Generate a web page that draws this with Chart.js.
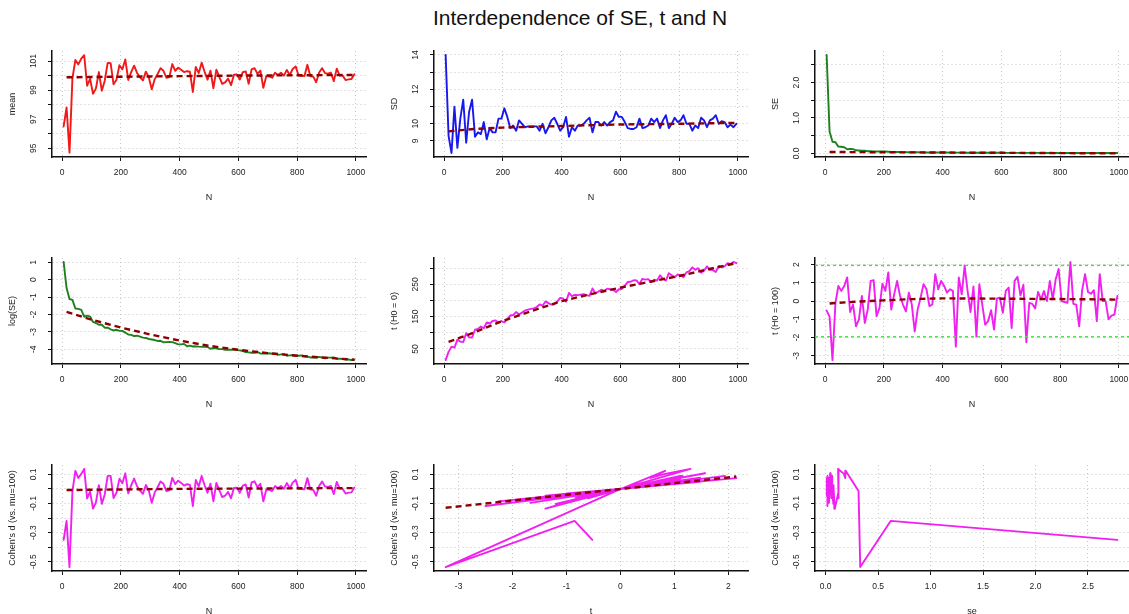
<!DOCTYPE html>
<html><head><meta charset="utf-8">
<script src="https://cdn.jsdelivr.net/npm/chart.js@4.4.0/dist/chart.umd.min.js"></script>
<style>
html,body{margin:0;padding:0;background:#fff;width:1129px;height:614px;overflow:hidden;position:relative}
#title{position:absolute;left:0;top:6px;width:1160px;text-align:center;font:21px "Liberation Sans",Arial,Helvetica,sans-serif;color:#111;line-height:24px}
canvas{position:absolute}
</style></head><body>
<div id="title">Interdependence of SE, t and N</div>
<script>
// ---------- data ----------
const N = [5,15,25,35,45,55,65,75,85,95,105,115,125,135,145,155,165,175,185,195,205,215,225,235,245,255,265,275,285,295,305,315,325,335,345,355,365,375,385,395,405,415,425,435,445,455,465,475,485,495,505,515,525,535,545,555,565,575,585,595,605,615,625,635,645,655,665,675,685,695,705,715,725,735,745,755,765,775,785,795,805,815,825,835,845,855,865,875,885,895,905,915,925,935,945,955,965,975,985,995];

const meanVals = [96.5,97.8,94.7,99.83,101.07,100.77,101.17,101.4,99.3,99.78,
 98.74,99.12,100.24,98.96,99.65,100.87,100.85,99.4,99.72,100.71,
 100.43,101.11,99.7,100.24,100.68,100.18,99.88,99.67,100.27,99.89,
 99.05,99.74,100.11,100.51,100.33,99.85,99.9,100.79,100.33,100.54,
 100.4,100.24,100.3,100.26,98.87,100.6,100.17,100.89,100.26,99.72,
 100.34,99.13,100.41,99.91,99.43,99.53,99.79,99.34,100.06,100.08,
 99.73,100.23,100.29,99.43,100.43,100.51,100.12,100.34,99.16,99.96,
 99.94,99.85,100.2,100.04,100.2,100.0,100.39,100.04,100.45,100.63,
 100.0,99.98,99.97,100.74,99.95,99.93,99.54,100.21,100.51,100.17,
 100.13,100.21,99.62,100.48,100.0,100.0,99.69,99.74,99.76,100.09];

const sdVals = [14.0,9.3,8.3,11.0,8.6,10.3,11.4,8.9,10.7,11.4,
 9.25,9.5,9.4,10.1,9.1,9.75,9.5,9.5,10.3,10.3,
 10.9,10.4,9.75,9.9,9.6,10.2,10.0,9.8,9.85,9.85,
 9.85,9.85,9.6,10.0,9.45,9.8,10.2,10.35,10.0,9.6,
 9.8,10.4,9.25,9.8,9.6,9.9,9.9,10.0,10.2,10.35,
 9.5,10.1,10.1,9.9,10.1,9.9,10.1,10.2,10.7,10.4,
 10.4,10.1,9.75,9.7,9.7,9.8,10.3,9.75,9.8,9.9,
 10.3,10.1,10.3,9.75,10.2,10.5,9.75,10.0,10.35,10.1,
 10.2,10.5,10.0,10.0,9.6,9.9,9.75,10.35,10.2,9.8,
 10.2,10.3,10.5,10.0,10.15,10.1,9.8,9.95,9.8,10.0];

const seVals = [2.78,0.62,0.33,0.314,0.191,0.187,0.175,0.119,0.126,0.12,
 0.088,0.083,0.075,0.075,0.063,0.063,0.058,0.054,0.056,0.053,
 0.053,0.048,0.043,0.042,0.039,0.040,0.038,0.036,0.035,0.033,
 0.032,0.031,0.0295,0.030,0.0274,0.0276,0.0279,0.0276,0.026,0.0243,
 0.0242,0.0251,0.0218,0.0225,0.0216,0.0218,0.0213,0.021,0.021,0.0209,
 0.0188,0.0196,0.0192,0.0185,0.0185,0.0178,0.0179,0.0177,0.0183,0.0175,
 0.0172,0.0164,0.0156,0.0153,0.015,0.015,0.0155,0.0144,0.0143,0.0142,
 0.0146,0.0141,0.0142,0.0133,0.0137,0.0139,0.0127,0.0129,0.0132,0.0127,
 0.0127,0.0129,0.0121,0.012,0.0114,0.0116,0.0113,0.0118,0.0115,0.0109,
 0.0113,0.0113,0.0114,0.0107,0.0107,0.0106,0.0102,0.0102,0.0099,0.0101];

const logSeVals = [1.02,-0.48,-1.11,-1.16,-1.66,-1.68,-1.74,-2.13,-2.07,-2.12,
 -2.43,-2.49,-2.59,-2.59,-2.76,-2.76,-2.85,-2.92,-2.88,-2.94,
 -2.94,-3.04,-3.15,-3.17,-3.24,-3.22,-3.27,-3.33,-3.35,-3.41,
 -3.44,-3.47,-3.52,-3.51,-3.6,-3.59,-3.58,-3.59,-3.65,-3.72,
 -3.72,-3.69,-3.83,-3.79,-3.84,-3.83,-3.85,-3.86,-3.86,-3.87,
 -3.97,-3.93,-3.95,-3.99,-3.99,-4.03,-4.02,-4.03,-4.0,-4.05,
 -4.06,-4.11,-4.16,-4.18,-4.2,-4.2,-4.17,-4.24,-4.25,-4.25,
 -4.23,-4.26,-4.25,-4.32,-4.29,-4.28,-4.37,-4.35,-4.33,-4.37,
 -4.37,-4.35,-4.41,-4.42,-4.47,-4.46,-4.48,-4.44,-4.47,-4.52,
 -4.48,-4.48,-4.47,-4.54,-4.54,-4.55,-4.59,-4.59,-4.62,-4.6];

const t0Vals = [15.4,40.7,57,53.7,78.9,72.6,71.5,98.7,85.6,85.4,
 109.4,111.8,119.2,113.9,131.8,128.8,136.4,138.4,131.6,136.5,
 131.9,142.5,153.4,155.2,164.2,156.9,162.6,168.7,171.9,174.2,
 175.6,179.7,188,183.9,197.1,192,187.1,188.5,196.8,208,
 206.1,196.3,223.6,213.5,217.4,216.7,218.2,219.9,216.5,214.3,
 237.3,222.6,227.7,233.4,229.8,236.8,234.9,233.5,226.3,234.8,
 235.8,246,257.2,258.2,262.9,262.4,250.6,267.3,264.9,266.3,
 257.5,264.4,262,278,268.1,261.7,284.8,278.4,271.9,280.9,
 278.1,271.9,287.2,291,302.7,295.1,300.2,286.4,293.1,305.9,
 295.2,294.3,288.5,307.3,302.9,305.9,316,312.8,319.6,315.7];

const t100Vals = [-0.52,-0.85,-3.24,-0.09,0.83,0.56,0.83,1.3,-0.6,-0.19,
 -1.39,-1.0,0.28,-1.2,-0.46,1.11,1.15,-0.83,-0.37,0.96,
 0.56,1.57,-0.46,0.37,1.11,0.28,-0.19,-0.56,0.46,-0.19,
 -1.67,-0.46,0.19,0.93,0.65,-0.28,-0.19,1.48,0.65,1.11,
 0.83,0.46,0.65,0.56,-2.5,1.3,0.37,1.94,0.56,-0.6,
 0.8,-1.94,0.93,-0.2,-1.3,-1.1,-0.5,-1.57,0.15,0.19,
 -0.65,0.56,0.74,-1.48,1.11,1.33,0.3,0.9,-2.26,-0.1,
 -0.15,-0.4,0.5,0.1,0.55,0.0,1.1,0.1,1.2,1.76,
 0.0,-0.05,-0.1,2.15,-0.15,-0.2,-1.39,0.6,1.48,0.5,
 0.4,0.6,-1.1,1.48,0.0,0.0,-1.0,-0.8,-0.74,0.28];

const dVals = [-0.35,-0.22,-0.537,-0.015,0.124,0.075,0.103,0.137,-0.065,-0.019,
 -0.136,-0.093,0.025,-0.103,-0.038,0.089,0.089,-0.063,-0.027,0.069,
 0.039,0.107,-0.031,0.024,0.071,0.018,-0.012,-0.034,0.027,-0.011,
 -0.096,-0.026,0.011,0.051,0.035,-0.015,-0.01,0.076,0.033,0.056,
 0.041,0.023,0.032,0.027,-0.118,0.061,0.017,0.089,0.025,-0.027,
 0.036,-0.086,0.041,-0.009,-0.056,-0.047,-0.021,-0.065,0.006,0.008,
 -0.026,0.023,0.03,-0.059,0.044,0.052,0.012,0.035,-0.086,-0.004,
 -0.006,-0.015,0.019,0.004,0.02,0.0,0.04,0.004,0.043,0.062,
 0.0,-0.002,-0.003,0.074,-0.005,-0.007,-0.047,0.02,0.05,0.017,
 0.013,0.02,-0.036,0.048,0.0,0.0,-0.032,-0.026,-0.024,0.009];

// dashed trend lines
const trendN = [15,100,200,300,400,500,600,700,800,900,995];
const meanTrend = [99.88,99.9,99.92,99.94,99.96,99.98,100.0,100.01,100.02,100.03,100.04];
const sdTrend = [9.56,9.7,9.78,9.83,9.87,9.92,9.96,9.98,10.0,10.03,10.05];
const seTrend = [0.04,0.037,0.033,0.029,0.025,0.021,0.017,0.013,0.009,0.005,0.001];
const logSeTrend = [-1.85,-2.3,-2.75,-3.15,-3.5,-3.8,-4.03,-4.22,-4.37,-4.49,-4.6];
const t0Trend = [72,100,137,168,198,220,240,258,276,297,316];
const t100Trend = [-0.13,-0.04,0.04,0.11,0.15,0.14,0.13,0.12,0.11,0.1,0.08];
const dTrend = [-0.008,-0.006,-0.004,-0.002,0.0,0.001,0.002,0.003,0.004,0.005,0.005];
const dOnTX = [-3.24,2.15];
const dOnTY = [-0.13,0.085];
const critT = [1.96,-1.96];

// ticks and labels
const NTicks = [0,200,400,600,800,1000];
const meanTicks = [95,96,97,98,99,100,101], meanLabels = [95,97,99,101];
const sdTicks = [9,10,11,12,13,14], sdLabels = [9,10,12,14];
const seTicks = [0,0.5,1,1.5,2,2.5], seLabels = [[0,'0.0'],[1,'1.0'],[2,'2.0']];
const logTicks = [-4,-3,-2,-1,0,1];
const t0Ticks = [50,100,150,200,250,300], t0Labels = [50,150,250];
const t100Ticks = [-3,-2,-1,0,1,2];
const dTicks = [-0.5,-0.4,-0.3,-0.2,-0.1,0,0.1], dLabels = [[-0.5,'-0.5'],[-0.3,'-0.3'],[-0.1,'-0.1'],[0.1,'0.1']];
const tTicks = [-3,-2,-1,0,1,2];
const seXTicks = [0,0.5,1,1.5,2,2.5], seXLabels = [[0,'0.0'],[0.5,'0.5'],[1,'1.0'],[1.5,'1.5'],[2,'2.0'],[2.5,'2.5']];

// axis ranges (R style, data range +/- 4%)
const NRange = [-34.6,1034.6];
const meanRange = [94.4,101.69], sdRange = [8.07,14.23], seRange = [-0.101,2.891];
const logRange = [-4.846,1.246], t0Range = [3.23,331.77], t100Range = [-3.456,2.366];
const dRange = [-0.564,0.164], tRange = [-3.456,2.366], seXRange = [-0.101,2.891];

// ---------- layout / styling ----------
const FONT = '"Liberation Sans", Arial, Helvetica, sans-serif';
const COLS = [52,434,815], ROWS = [51,258,465], PW = 314, PH = 106;
const PAD_L = 60, PAD_T = 8, PAD_R = 6, PAD_B = 52;
const RED='#f01818', BLUE='#1818ee', GREEN='#1f801f', MAG='#f020f0', DRED='#8b0000', LIME='#44dd44';
const LW = 1.9;

const lab = arr => arr.map(v => Array.isArray(v) ? v : [v, String(v)]);

const textPlugin = {
  id: 'rtext',
  afterDraw(chart) {
    const c = chart.options.plugins.rtext;
    const {ctx, chartArea:a} = chart;
    const x = chart.scales.x, y = chart.scales.y;
    ctx.save();
    ctx.fillStyle = '#222';
    ctx.textAlign = 'center';
    ctx.textBaseline = 'middle';
    ctx.font = '8.5px ' + FONT;
    lab(c.xl).forEach(([v,s]) => ctx.fillText(s, x.getPixelForValue(v), a.bottom + 16));
    lab(c.yl).forEach(([v,s]) => {
      ctx.save(); ctx.translate(a.left - 18, y.getPixelForValue(v)); ctx.rotate(-Math.PI/2);
      ctx.fillText(s, 0, 0); ctx.restore();
    });
    ctx.font = '9px ' + FONT;
    ctx.fillText(c.xt, (a.left + a.right)/2, a.bottom + 41);
    ctx.save(); ctx.translate(a.left - 39, (a.top + a.bottom)/2); ctx.rotate(-Math.PI/2);
    ctx.fillText(c.yt, 0, 0); ctx.restore();
    ctx.restore();
  }
};

function axis(range, ticks, which) {
  return {
    type: 'linear', min: range[0], max: range[1],
    afterBuildTicks: s => { s.ticks = ticks.map(v => ({value: v})); },
    afterFit: s => { if (which === 'x') s.height = PAD_B; else s.width = PAD_L; },
    ticks: {display: false},
    grid: {display: true, drawOnChartArea: true, drawTicks: true, tickLength: 4,
           color: '#c4c4c4', lineWidth: 1, tickColor: '#111', tickWidth: 1, tickBorderDash: []},
    border: {display: true, color: '#111', width: 1.5, dash: [1,3]}
  };
}

const pts = (xs, ys) => xs.map((v, i) => ({x: v, y: ys[i]}));
function series(xs, ys, color, w, dash) {
  return {data: pts(xs, ys), showLine: true, borderColor: color, borderWidth: w,
          borderDash: dash || [], pointRadius: 0, pointHoverRadius: 0, fill: false, tension: 0,
          borderJoinStyle: 'round', borderCapStyle: dash ? 'butt' : 'round'};
}

function panel(col, row, p) {
  const cv = document.createElement('canvas');
  const w = PW + PAD_L + PAD_R, h = PH + PAD_T + PAD_B;
  cv.width = w; cv.height = h;
  cv.style.width = w + 'px'; cv.style.height = h + 'px';
  cv.style.left = (COLS[col] - PAD_L) + 'px';
  cv.style.top = (ROWS[row] - PAD_T) + 'px';
  document.body.appendChild(cv);
  new Chart(cv, {
    type: 'scatter',
    data: {datasets: p.ds},
    options: {
      responsive: false, animation: false, events: [], devicePixelRatio: 1,
      layout: {padding: {left: 0, top: PAD_T, right: PAD_R, bottom: 0}},
      plugins: {legend: {display: false}, tooltip: {enabled: false}, rtext: p.text},
      scales: {x: axis(p.xr, p.xt, 'x'), y: axis(p.yr, p.yt, 'y')}
    },
    plugins: [textPlugin]
  });
}

const DASH = [6,4];
panel(0,0,{xr:NRange, xt:NTicks, yr:meanRange, yt:meanTicks,
  ds:[series(trendN, meanTrend, DRED, 2.4, DASH), series(N, meanVals, RED, LW)],
  text:{xl:NTicks, yl:meanLabels, xt:'N', yt:'mean'}});
panel(1,0,{xr:NRange, xt:NTicks, yr:sdRange, yt:sdTicks,
  ds:[series(trendN, sdTrend, DRED, 2.4, DASH), series(N, sdVals, BLUE, LW)],
  text:{xl:NTicks, yl:sdLabels, xt:'N', yt:'SD'}});
panel(2,0,{xr:NRange, xt:NTicks, yr:seRange, yt:seTicks,
  ds:[series(trendN, seTrend, DRED, 2.4, DASH), series(N, seVals, GREEN, LW)],
  text:{xl:NTicks, yl:seLabels, xt:'N', yt:'SE'}});
panel(0,1,{xr:NRange, xt:NTicks, yr:logRange, yt:logTicks,
  ds:[series(trendN, logSeTrend, DRED, 2.4, DASH), series(N, logSeVals, GREEN, LW)],
  text:{xl:NTicks, yl:logTicks, xt:'N', yt:'log(SE)'}});
panel(1,1,{xr:NRange, xt:NTicks, yr:t0Range, yt:t0Ticks,
  ds:[series(trendN, t0Trend, DRED, 2.4, DASH), series(N, t0Vals, MAG, LW)],
  text:{xl:NTicks, yl:t0Labels, xt:'N', yt:'t (H0 = 0)'}});
panel(2,1,{xr:NRange, xt:NTicks, yr:t100Range, yt:t100Ticks,
  ds:[series(NRange, [critT[0], critT[0]], LIME, 1.4, [3,3]),
      series(NRange, [critT[1], critT[1]], LIME, 1.4, [3,3]),
      series(trendN, t100Trend, DRED, 2.4, DASH), series(N, t100Vals, MAG, LW)],
  text:{xl:NTicks, yl:t100Ticks, xt:'N', yt:'t (H0 = 100)'}});
panel(0,2,{xr:NRange, xt:NTicks, yr:dRange, yt:dTicks,
  ds:[series(trendN, dTrend, DRED, 2.4, DASH), series(N, dVals, MAG, LW)],
  text:{xl:NTicks, yl:dLabels, xt:'N', yt:"Cohen's d (vs. mu=100)"}});
panel(1,2,{xr:tRange, xt:tTicks, yr:dRange, yt:dTicks,
  ds:[series(dOnTX, dOnTY, DRED, 2.4, DASH), series(t100Vals, dVals, MAG, LW)],
  text:{xl:tTicks, yl:dLabels, xt:'t', yt:"Cohen's d (vs. mu=100)"}});
panel(2,2,{xr:seXRange, xt:seXTicks, yr:dRange, yt:dTicks,
  ds:[series(seVals, dVals, MAG, LW)],
  text:{xl:seXLabels, yl:dLabels, xt:'se', yt:"Cohen's d (vs. mu=100)"}});
</script>
</body></html>
